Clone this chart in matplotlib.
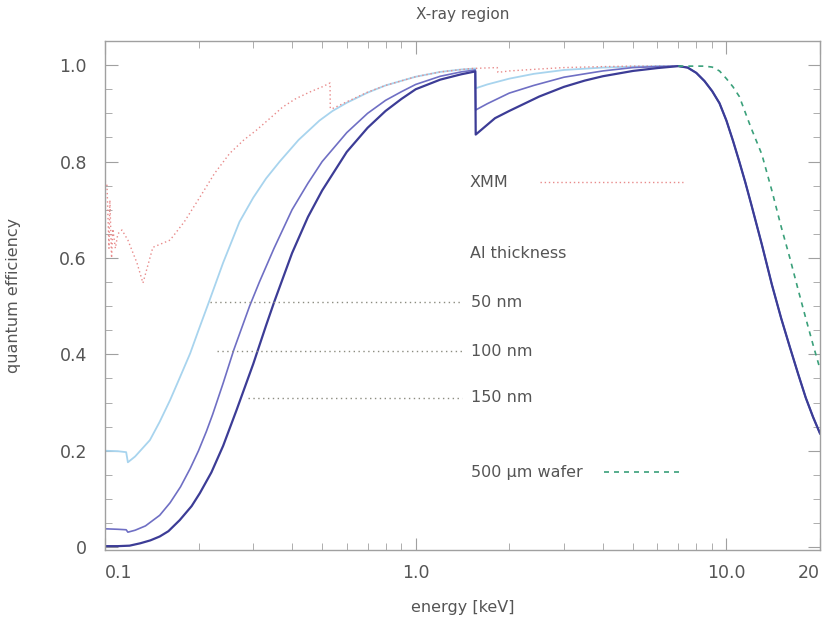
import numpy as np
import matplotlib.pyplot as plt
from matplotlib.ticker import FixedLocator, LogLocator, MultipleLocator, NullFormatter

# --- data --------------------------------------------------------------
# XMM response (red dotted)
xmm_e = [0.1, 0.1015, 0.103, 0.1037, 0.105, 0.106, 0.108, 0.110, 0.1134, 0.1185,
         0.1267, 0.1325, 0.1426, 0.150, 0.162, 0.18, 0.202, 0.225, 0.252, 0.28,
         0.307, 0.34, 0.373, 0.41, 0.455, 0.5, 0.53, 0.531, 0.54, 0.6, 0.7, 0.8,
         1.0, 1.2, 1.5, 1.83, 1.84, 2.0, 2.5, 3.0, 4.0, 5.0, 6.0, 7.0]
xmm_q = [0.76, 0.75, 0.62, 0.72, 0.60, 0.66, 0.62, 0.65, 0.658, 0.637,
         0.59, 0.548, 0.622, 0.628, 0.637, 0.675, 0.726, 0.775, 0.817, 0.845,
         0.865, 0.89, 0.913, 0.93, 0.944, 0.955, 0.963, 0.91, 0.91, 0.924, 0.944, 0.958,
         0.976, 0.986, 0.993, 0.995, 0.985, 0.988, 0.992, 0.995, 0.997, 0.998, 0.998, 0.998]

# common high-energy fall-off (Si absorption), shared by the Al curves
hi_e = [7.5, 8.0, 8.5, 9.0, 9.5, 10.0, 10.5, 11.0, 11.5, 12.0, 13.0, 14.0, 15.0,
        16.0, 17.0, 18.0, 19.0, 20.0]
hi_q = [0.995, 0.984, 0.967, 0.946, 0.921, 0.885, 0.843, 0.80, 0.757, 0.713, 0.628,
        0.545, 0.475, 0.415, 0.36, 0.31, 0.27, 0.236]

# Al 50 nm (light blue)
al50_e = [0.1, 0.11, 0.117, 0.1185, 0.125, 0.1395, 0.15, 0.162, 0.175, 0.188, 0.2,
          0.217, 0.24, 0.271, 0.3, 0.33, 0.365, 0.42, 0.49, 0.54, 0.6, 0.7, 0.8,
          1.0, 1.2, 1.4, 1.555,
          1.56, 1.7, 2.0, 2.4, 3.0, 4.0, 5.0, 6.0, 7.0] + hi_e
al50_q = [0.2, 0.199, 0.197, 0.176, 0.188, 0.222, 0.26, 0.305, 0.355, 0.402, 0.45,
          0.512, 0.59, 0.675, 0.725, 0.765, 0.80, 0.845, 0.885, 0.905, 0.922, 0.943, 0.958,
          0.976, 0.986, 0.991, 0.993,
          0.952, 0.96, 0.972, 0.982, 0.99, 0.995, 0.997, 0.998, 0.998] + hi_q

# Al 100 nm (medium blue)
al100_e = [0.1, 0.11, 0.117, 0.1185, 0.125, 0.135, 0.15, 0.162, 0.175, 0.188, 0.2,
           0.212, 0.222, 0.24, 0.26, 0.292, 0.314, 0.35, 0.4, 0.45, 0.5, 0.6, 0.7,
           0.8, 0.9, 1.0, 1.2, 1.4, 1.555,
           1.56, 1.7, 2.0, 2.4, 3.0, 3.5, 4.0, 5.0, 6.0, 7.0] + hi_e
al100_q = [0.038, 0.037, 0.036, 0.031, 0.035, 0.044, 0.066, 0.092, 0.125, 0.163, 0.2,
           0.24, 0.275, 0.34, 0.41, 0.50, 0.55, 0.62, 0.70, 0.755, 0.80, 0.86, 0.90,
           0.927, 0.945, 0.96, 0.977, 0.986, 0.99,
           0.907, 0.92, 0.942, 0.958, 0.975, 0.982, 0.988, 0.995, 0.997, 0.998] + hi_q

# Al 150 nm (dark navy)
al150_e = [0.1, 0.11, 0.12, 0.13, 0.14, 0.15, 0.16, 0.174, 0.19, 0.202, 0.22, 0.24,
           0.265, 0.3, 0.33, 0.351, 0.4, 0.45, 0.5, 0.6, 0.7, 0.8, 0.9, 1.0, 1.2,
           1.4, 1.555,
           1.56, 1.8, 2.0, 2.5, 3.0, 3.5, 4.0, 5.0, 6.0, 7.0] + hi_e
al150_q = [0.002, 0.002, 0.003, 0.008, 0.014, 0.022, 0.033, 0.056, 0.085, 0.112, 0.155,
           0.21, 0.284, 0.38, 0.46, 0.51, 0.61, 0.685, 0.74, 0.82, 0.87, 0.905, 0.93,
           0.95, 0.97, 0.981, 0.987,
           0.856, 0.89, 0.905, 0.935, 0.955, 0.968, 0.977, 0.988, 0.994, 0.998] + hi_q

# 500 um wafer (green dashed)
wafer_e = [7.0, 8.0, 8.5, 9.0, 9.5, 10.0, 10.5, 11.0, 12.0, 13.0, 14.0, 15.0, 16.0,
           17.0, 18.0, 19.0, 20.0]
wafer_q = [0.998, 0.998, 0.998, 0.996, 0.988, 0.972, 0.955, 0.935, 0.87, 0.815, 0.74,
           0.665, 0.60, 0.535, 0.475, 0.42, 0.37]

# --- plot -----------------------------------------------------------------
TXT = "#555555"
FRAME = "#a0a0a0"

fig = plt.figure(figsize=(8.24, 6.26), dpi=100)
ax = fig.add_axes([0.1274, 0.1214, 0.8677, 0.813])

ax.plot(al50_e, al50_q, color="#a8d4ee", lw=1.3)
ax.plot(xmm_e, xmm_q, color="#e88a8a", lw=1.0, ls=(0, (1, 2)))
ax.plot(al100_e, al100_q, color="#6f6fc4", lw=1.2)
ax.plot(al150_e, al150_q, color="#3c3c96", lw=1.6)
ax.plot(wafer_e, wafer_q, color="#3aa07a", lw=1.2, ls=(0, (3, 3)))

# key (text + sample lines inside the axes, as in the original)
kw = dict(transform=ax.transAxes, fontsize=11.5, color=TXT, va="center", ha="left")
ax.text(0.51, 0.723, "XMM", **kw)
ax.plot([0.608, 0.808], [0.723, 0.723], transform=ax.transAxes,
        color="#e88a8a", lw=1.0, ls=(0, (1, 2)))
ax.text(0.51, 0.582, "Al thickness", **kw)
for y, lab, x0 in [(0.487, "50 nm", 0.147), (0.391, "100 nm", 0.157), (0.299, "150 nm", 0.2)]:
    ax.text(0.512, y, lab, **kw)
    ax.plot([x0, 0.499], [y, y], transform=ax.transAxes,
            color="#8c8c80", lw=1.0, ls=(0, (1, 2.5)))
ax.text(0.512, 0.153, "500 \u00b5m wafer", **kw)
ax.plot([0.698, 0.804], [0.153, 0.153], transform=ax.transAxes,
        color="#3aa07a", lw=1.2, ls=(0, (3, 3)))

ax.set_xscale("log")
ax.set_xlim(0.1, 20)
ax.set_ylim(-0.006, 1.05)

ax.xaxis.set_major_locator(FixedLocator([0.1, 1.0, 10.0, 20.0]))
ax.set_xticklabels(["0.1", "1.0", "10.0", "20"])
ax.xaxis.set_minor_locator(LogLocator(base=10, subs=np.arange(2, 10)))
ax.xaxis.set_minor_formatter(NullFormatter())
lbls = ax.get_xticklabels()
lbls[0].set_ha("left")
lbls[-1].set_ha("right")

ax.set_yticks([0, 0.2, 0.4, 0.6, 0.8, 1.0])
ax.set_yticklabels(["0", "0.2", "0.4", "0.6", "0.8", "1.0"])
ax.yaxis.set_minor_locator(MultipleLocator(0.05))

ax.tick_params(which="both", direction="in", top=True, right=True,
               colors=FRAME, labelcolor=TXT, labelsize=12.5)
ax.tick_params(axis="y", which="major", length=9, pad=13)
ax.tick_params(axis="x", which="major", length=9, pad=10)
ax.tick_params(which="minor", length=5)
for sp in ax.spines.values():
    sp.set_color(FRAME)
    sp.set_linewidth(1.0)

ax.set_title("X-ray region", fontsize=11, color=TXT, pad=16)
ax.set_xlabel("energy [keV]", fontsize=11.5, color=TXT)
ax.set_ylabel("quantum efficiency", fontsize=11.5, color=TXT)
ax.xaxis.set_label_coords(0.5, -0.098)
ax.yaxis.set_label_coords(-0.118, 0.5)

fig.savefig("out.png", dpi=100)
